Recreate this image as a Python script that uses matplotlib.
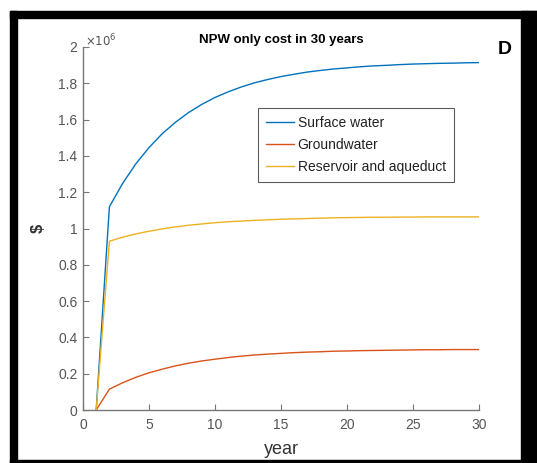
import matplotlib
matplotlib.use("Agg")
import matplotlib.pyplot as plt
from matplotlib.patches import Rectangle

plt.rcParams['font.family'] = ['Liberation Sans', 'DejaVu Sans']

years = list(range(1, 31))

# NPW of cost, in units of 1e6 $
surface_water = [0.0, 1.120, 1.248, 1.356, 1.446, 1.522, 1.585, 1.639, 1.684, 1.722,
                 1.753, 1.780, 1.803, 1.821, 1.837, 1.850, 1.862, 1.871, 1.879, 1.885,
                 1.891, 1.896, 1.899, 1.903, 1.906, 1.908, 1.910, 1.911, 1.913, 1.914]
groundwater = [0.0, 0.115, 0.150, 0.180, 0.205, 0.225, 0.243, 0.258, 0.270, 0.280,
               0.289, 0.297, 0.303, 0.308, 0.312, 0.316, 0.319, 0.321, 0.324, 0.325,
               0.327, 0.328, 0.329, 0.330, 0.331, 0.332, 0.332, 0.333, 0.333, 0.333]
reservoir = [0.0, 0.930, 0.952, 0.970, 0.985, 0.998, 1.009, 1.018, 1.025, 1.032,
             1.037, 1.041, 1.045, 1.048, 1.051, 1.053, 1.055, 1.057, 1.059, 1.060,
             1.061, 1.062, 1.062, 1.063, 1.063, 1.064, 1.064, 1.064, 1.064, 1.064]

series_names = ["Surface water", "Groundwater", "Reservoir and aqueduct"]
colors = ["#0072BD", "#D95319", "#EDB120"]

x_ticks = [0, 5, 10, 15, 20, 25, 30]
y_ticks = [0, 0.2, 0.4, 0.6, 0.8, 1.0, 1.2, 1.4, 1.6, 1.8, 2.0]
y_tick_labels = ["0", "0.2", "0.4", "0.6", "0.8", "1", "1.2", "1.4", "1.6", "1.8", "2"]

W, H = 537, 463
L, R, T, B = 83, 479, 47, 410
fig = plt.figure(figsize=(W / 100, H / 100), dpi=100)
ax = fig.add_axes([L / W, 1 - B / H, (R - L) / W, (B - T) / H])

for vals, name, c in zip([surface_water, groundwater, reservoir], series_names, colors):
    ax.plot(years, [v * 1e6 for v in vals], color=c, lw=1.0, label=name)

ax.set_xlim(0, 30)
ax.set_ylim(0, 2e6)
ax.set_xticks(x_ticks)
ax.set_yticks([v * 1e6 for v in y_ticks])
ax.set_yticklabels(y_tick_labels)

gray = "#555555"
for side in ["top", "right"]:
    ax.spines[side].set_visible(False)
for side in ["left", "bottom"]:
    ax.spines[side].set_color("#777777")
    ax.spines[side].set_linewidth(1.0)
ax.tick_params(direction="in", length=4, width=0.8, color="#777777",
               labelcolor=gray, labelsize=10, pad=4)
ax.tick_params(axis="x", pad=6)

ax.text(0.006, 0.994, r"$\times10^{6}$", transform=ax.transAxes, fontsize=8.5,
        color=gray, ha="left", va="bottom")

ax.set_xlabel("year", fontsize=13, color="#333333", labelpad=6)
ax.set_ylabel("$", fontsize=12, color="#333333", fontweight="bold", labelpad=9)
ax.set_title("NPW only cost in 30 years", fontsize=9.5, fontweight="bold", pad=3)

leg = ax.legend(loc="upper left",
                bbox_to_anchor=((258 - L) / (R - L), 1 - (108 - T) / (B - T)),
                fontsize=10, frameon=True, fancybox=False, edgecolor="#333333",
                handlelength=2.0, handletextpad=0.25, borderpad=0.6, labelspacing=0.55,
                borderaxespad=0)
leg.get_frame().set_linewidth(0.8)
for t in leg.get_texts():
    t.set_color("#222222")

fig.text(505 / W, 1 - 49 / H, "D", fontsize=14, fontweight="bold", ha="center", va="center")

# black frame around the panel
for x0, y0, w, h in [(10, 11, W - 10, 7), (10, 11, 7, H - 11), (521, 11, W - 521, H - 11),
                     (10, H - 3, W - 10, 3)]:
    fig.patches.append(Rectangle((x0 / W, 1 - (y0 + h) / H), w / W, h / H,
                                 transform=fig.transFigure, color="black", zorder=10))

fig.savefig("out.png", dpi=100)
